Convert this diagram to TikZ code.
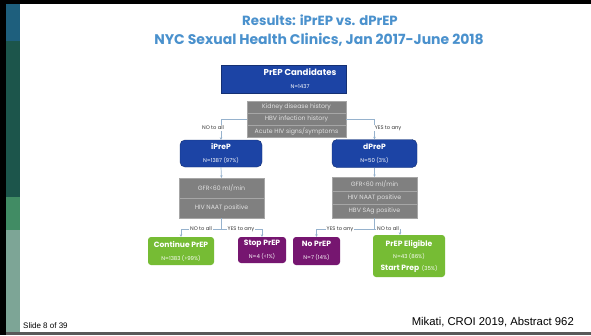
\documentclass[tikz,border=0pt]{standalone}
\usepackage{fontspec}
\setmainfont{Poppins}
\newfontfamily\arialf{Liberation Sans}
\usetikzlibrary{arrows.meta}
\definecolor{titleblue}{RGB}{74,145,205}
\definecolor{boxblue}{RGB}{28,68,165}
\definecolor{boxgray}{RGB}{128,128,128}
\definecolor{boxgreen}{RGB}{118,188,52}
\definecolor{boxpurple}{RGB}{118,22,112}
\definecolor{linkc}{RGB}{150,178,205}
\definecolor{graytext}{RGB}{225,225,225}
\definecolor{stripA}{RGB}{30,95,125}
\definecolor{stripB}{RGB}{28,85,75}
\definecolor{stripC}{RGB}{65,140,100}
\definecolor{stripD}{RGB}{125,165,150}
\tikzset{
  bluebox/.style={fill=boxblue, draw=boxblue!70!black, line width=0.4pt, text=white, align=center, inner sep=0pt},
  graybox/.style={fill=boxgray, draw=boxgray!70!white, line width=0.4pt, text=graytext, inner sep=0pt, font=\fontsize{6.2}{7}\selectfont},
  greenbox/.style={fill=boxgreen, rounded corners=3pt, text=white, align=center, inner sep=0pt},
  purplebox/.style={fill=boxpurple, rounded corners=3pt, text=white, align=center, inner sep=0pt},
  link/.style={draw=linkc, line width=0.7pt},
  arr/.style={link, -{Stealth[length=2.5pt,width=2.5pt]}},
  lab/.style={font=\fontsize{5.2}{6}\selectfont, text=black!80, fill=white, inner sep=0.6pt},
}
\newcommand{\smallt}[1]{{\fontsize{5.4}{6.5}\selectfont #1}}
\newcommand{\bigt}[1]{{\fontsize{7.6}{9}\selectfont\bfseries #1}}
\begin{document}
\begin{tikzpicture}[x=1pt,y=-1pt]
\useasboundingbox (0,0) rectangle (591,335);
\fill[white] (0,0) rectangle (591,335);
% frame and strip
\fill[black] (0,0) rectangle (6,335);
\fill[black] (0,0) rectangle (591,4);
\fill[stripA] (6,4) rectangle (20,41);
\fill[stripB] (6,41) rectangle (20,197);
\fill[stripC] (6,197) rectangle (20,230);
\fill[stripD] (6,230) rectangle (20,332);
\fill[black!65] (6,332) rectangle (591,335);
% title
\node[text=titleblue, font=\fontsize{13.3}{15}\selectfont\bfseries] (t1) at (320,20) {Results: iPrEP vs. dPrEP};
\node[text=titleblue, font=\fontsize{14}{16}\selectfont\bfseries] (t2) at (319,40) {NYC Sexual Health Clinics, Jan 2017-June 2018};
% top box
\node[bluebox, minimum width=125pt, minimum height=28pt] (cand) at (283.5,79) {};
\node[text=white, align=center, inner sep=0pt] (candt) at (300,79) {{\fontsize{8.6}{10}\selectfont\bfseries PrEP Candidates}\\[1pt]\smallt{N=1437}};
% gray criteria box
\node[graybox, minimum width=99pt, minimum height=12pt] (g1a) at (296.5,107) {Kidney disease history};
\node[graybox, minimum width=99pt, minimum height=12pt] (g1b) at (296.5,119) {HBV infection history};
\node[graybox, minimum width=99pt, minimum height=12pt] (g1c) at (296.5,131) {Acute HIV signs/symptoms};
% iPreP / dPreP
\node[bluebox, rounded corners=5pt, minimum width=82pt, minimum height=27pt] (ipre) at (221,153.5) {\bigt{iPreP}\\[1pt]\smallt{N=1387 (97\%)}};
\node[bluebox, rounded corners=5pt, minimum width=85pt, minimum height=28pt] (dpre) at (374.5,153.5) {\bigt{dPreP}\\[1pt]\smallt{N=50 (3\%)}};
% left gray box
\node[graybox, minimum width=85pt, minimum height=20pt] (g2a) at (221.5,188) {GFR<60 ml/min};
\node[graybox, minimum width=85pt, minimum height=20pt] (g2b) at (221.5,208) {HIV NAAT positive};
% right gray box
\node[graybox, minimum width=85pt, minimum height=13.7pt] (g3a) at (374.5,184) {GFR<60 ml/min};
\node[graybox, minimum width=85pt, minimum height=13.7pt] (g3b) at (374.5,197.7) {HIV NAAT positive};
\node[graybox, minimum width=85pt, minimum height=13.7pt] (g3c) at (374.5,211.4) {HBV SAg positive};
% outcome boxes
\node[greenbox, minimum width=66pt, minimum height=28pt] (cont) at (181,251) {\bigt{Continue PrEP}\\[1pt]\smallt{N=1383 (>99\%)}};
\node[purplebox, minimum width=48pt, minimum height=26pt] (stop) at (262,250) {\bigt{Stop PrEP}\\[1pt]\smallt{N=4 (<1\%)}};
\node[purplebox, minimum width=47pt, minimum height=28pt] (nop) at (316.5,251) {\bigt{No PrEP}\\[1pt]\smallt{N=7 (14\%)}};
\node[greenbox, minimum width=72pt, minimum height=42pt] (elig) at (409,256) {\bigt{PrEP Eligible}\\[0pt]\smallt{N=43 (86\%)}\\[0pt]\bigt{Start Prep} \smallt{(35\%)}};
% connectors top
\coordinate (tl) at (221,119);
\coordinate (tr) at (374.5,119);
\draw[link] (g1b.west) -- (tl);
\draw[arr] (tl) -- (ipre.north);
\draw[link] (g1b.east) -- (tr);
\draw[arr] (tr) -- (dpre.north);
\node[lab] (l1) at (213,128) {NO to all};
\node[lab, anchor=west] (l2) at (374,128) {YES to any};
% middle
\draw[arr] (ipre.south) -- (g2a.north);
\draw[arr] (dpre.south) -- (g3a.north);
% lower left
\coordinate (bl) at (221.5,229);
\coordinate (bl1) at (181,229);
\coordinate (bl2) at (262,229);
\draw[link] (g2b.south) -- (bl);
\draw[link] (bl1) -- (bl2);
\draw[arr] (bl1) -- (cont.north);
\draw[arr] (bl2) -- (stop.north);
\node[lab] (l3) at (201,229) {NO to all};
\node[lab] (l4) at (241,229) {YES to any};
% lower right
\coordinate (br) at (374.5,229);
\coordinate (br1) at (316.5,229);
\coordinate (br2) at (400,229);
\draw[link] (g3c.south) -- (br);
\draw[link] (br1) -- (br2);
\draw[arr] (br1) -- (nop.north);
\draw[arr] (br2) -- (br2 |- elig.north);
\node[lab] (l5) at (340,229) {YES to any};
\node[lab] (l6) at (388,229) {NO to all};
% footer
\node[font=\arialf\fontsize{8}{9}\selectfont, anchor=west, inner sep=0pt] (f1) at (23,326) {Slide 8 of 39};
\node[font=\arialf\fontsize{11.3}{13}\selectfont, anchor=east, inner sep=0pt] (f2) at (574,322) {Mikati, CROI 2019, Abstract 962};
\end{tikzpicture}
\end{document}
